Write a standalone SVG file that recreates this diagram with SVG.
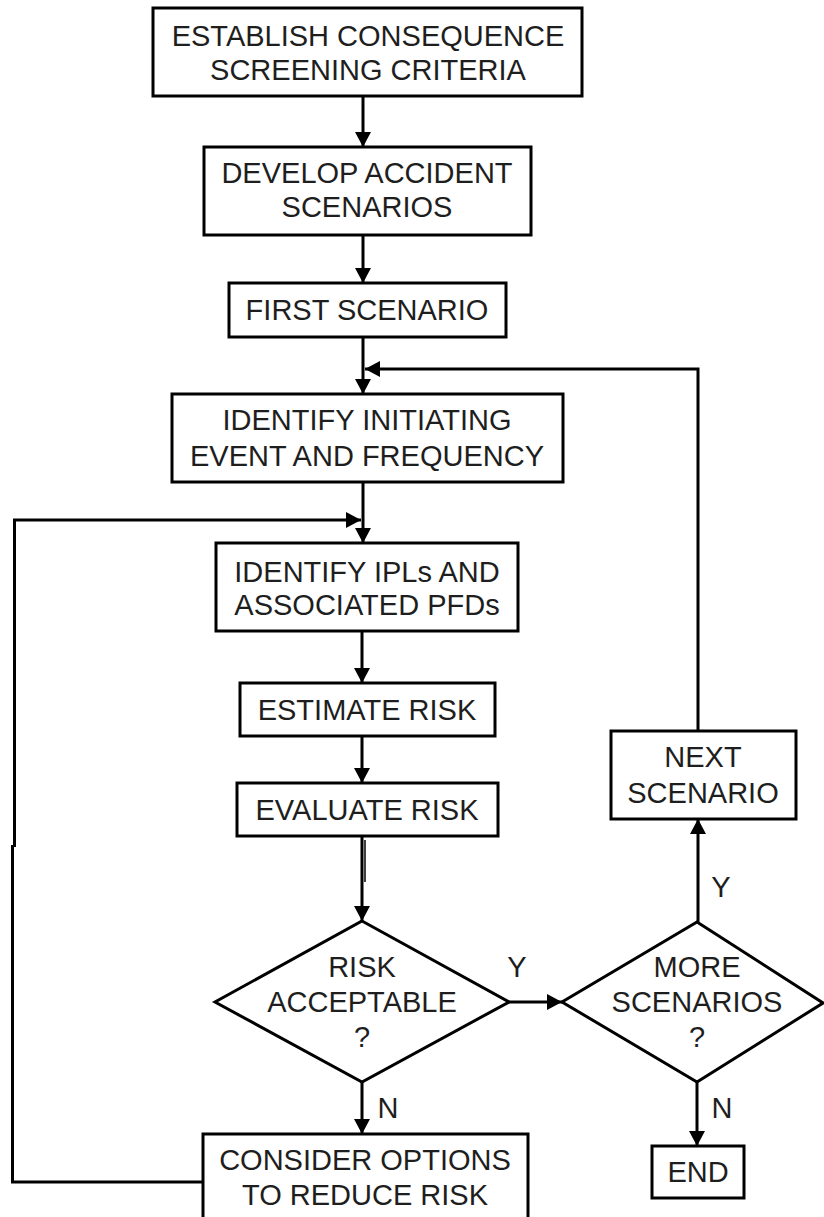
<svg xmlns="http://www.w3.org/2000/svg" width="824" height="1217" viewBox="0 0 824 1217">
<style>
.box{fill:#fff;stroke:#000;stroke-width:3}
.t{font-family:"Liberation Sans",Arial,sans-serif;font-size:29px;fill:#1e1e1e;text-anchor:middle}
.c{fill:none;stroke:#000;stroke-width:3}
</style>
<defs>
<marker id="ah" markerUnits="userSpaceOnUse" markerWidth="15" markerHeight="16" viewBox="0 0 15 16" refX="15" refY="8" orient="auto">
<path d="M0,0 L15,8 L0,16 z" fill="#000"/>
</marker>
</defs>
<rect width="824" height="1217" fill="#fff"/>
<g id="connectors">
<line class="c" x1="363" y1="96" x2="363" y2="147" marker-end="url(#ah)"/>
<line class="c" x1="363" y1="235" x2="363" y2="283" marker-end="url(#ah)"/>
<line class="c" x1="363" y1="337" x2="363" y2="394" marker-end="url(#ah)"/>
<polyline class="c" points="698,731 698,369 365,369" marker-end="url(#ah)"/>
<line class="c" x1="363" y1="482" x2="363" y2="543" marker-end="url(#ah)"/>
<polyline class="c" points="203,1182 12.5,1182 12.5,845"/>
<polyline class="c" points="14.5,847 14.5,520 361,520" marker-end="url(#ah)"/>
<line class="c" x1="362" y1="631" x2="362" y2="683" marker-end="url(#ah)"/>
<line class="c" x1="362" y1="736" x2="362" y2="783" marker-end="url(#ah)"/>
<line class="c" x1="362" y1="836" x2="362" y2="921" marker-end="url(#ah)"/>
<line x1="365" y1="840" x2="365" y2="882" stroke="#000" stroke-width="1.5"/>
<line class="c" x1="509" y1="1002" x2="562" y2="1002" marker-end="url(#ah)"/>
<line class="c" x1="698" y1="922" x2="698" y2="819" marker-end="url(#ah)"/>
<line class="c" x1="362" y1="1082" x2="362" y2="1134" marker-end="url(#ah)"/>
<line class="c" x1="697" y1="1082" x2="697" y2="1146" marker-end="url(#ah)"/>
<text class="t" x="517" y="977">Y</text>
<text class="t" x="721" y="897">Y</text>
<text class="t" x="388" y="1118">N</text>
<text class="t" x="722" y="1118">N</text>
</g>
<g id="n1">
<rect class="box" x="153" y="8" width="429" height="88"/>
<text class="t" x="368" y="46">ESTABLISH CONSEQUENCE</text>
<text class="t" x="368" y="80">SCREENING CRITERIA</text>
</g>
<g id="n2">
<rect class="box" x="204" y="147" width="327" height="88"/>
<text class="t" x="367" y="183">DEVELOP ACCIDENT</text>
<text class="t" x="367" y="217">SCENARIOS</text>
</g>
<g id="n3">
<rect class="box" x="229" y="283" width="277" height="54"/>
<text class="t" x="367" y="320">FIRST SCENARIO</text>
</g>
<g id="n4">
<rect class="box" x="172" y="394" width="391" height="88"/>
<text class="t" x="367" y="430">IDENTIFY INITIATING</text>
<text class="t" x="367" y="466">EVENT AND FREQUENCY</text>
</g>
<g id="n5">
<rect class="box" x="216" y="543" width="302" height="88"/>
<text class="t" x="367" y="582">IDENTIFY IPLs AND</text>
<text class="t" x="367" y="615">ASSOCIATED PFDs</text>
</g>
<g id="n6">
<rect class="box" x="240" y="683" width="255" height="53"/>
<text class="t" x="367" y="720">ESTIMATE RISK</text>
</g>
<g id="n7">
<rect class="box" x="237" y="783" width="261" height="53"/>
<text class="t" x="367" y="820">EVALUATE RISK</text>
</g>
<g id="n8">
<polygon class="box" points="362,921 509,1002 362,1082 215,1002"/>
<text class="t" x="362" y="977">RISK</text>
<text class="t" x="362" y="1012">ACCEPTABLE</text>
<text class="t" x="362" y="1047">?</text>
</g>
<g id="n9">
<polygon class="box" points="697,922 823,1003 697,1082 562,1002"/>
<text class="t" x="697" y="977">MORE</text>
<text class="t" x="697" y="1012">SCENARIOS</text>
<text class="t" x="697" y="1047">?</text>
</g>
<g id="n10">
<rect class="box" x="611" y="731" width="185" height="88"/>
<text class="t" x="703" y="767">NEXT</text>
<text class="t" x="703" y="803">SCENARIO</text>
</g>
<g id="n11">
<rect class="box" x="203" y="1134" width="325" height="95"/>
<text class="t" x="365" y="1170">CONSIDER OPTIONS</text>
<text class="t" x="365" y="1205">TO REDUCE RISK</text>
</g>
<g id="n12">
<rect class="box" x="652" y="1146" width="92" height="52"/>
<text class="t" x="698" y="1182">END</text>
</g>
</svg>
